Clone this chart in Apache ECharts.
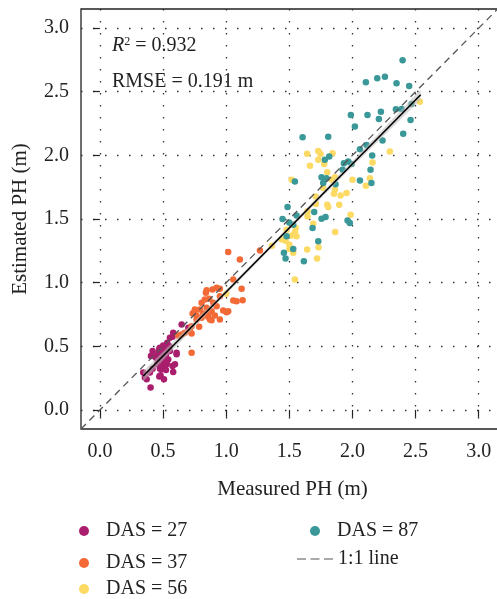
<!DOCTYPE html>
<html><head><meta charset="utf-8">
<script src="https://cdn.jsdelivr.net/npm/echarts@6/dist/echarts.min.js"></script>
<style>html,body{margin:0;padding:0;background:#fff}#c{width:497px;height:599px}</style>
</head><body><div id="c"></div>
<script>
// ---- data ----
const tickValues = [0, 0.5, 1, 1.5, 2, 2.5, 3];
const xRange = [-0.15, 3.2];
const yRange = [-0.15, 3.15];
const das27 = [[0.343,0.293],[0.356,0.254],[0.37,0.24],[0.396,0.293],[0.401,0.176],[0.404,0.423],[0.417,0.462],[0.417,0.324],[0.443,0.41],[0.449,0.423],[0.454,0.358],[0.462,0.45],[0.47,0.481],[0.47,0.262],[0.475,0.324],[0.475,0.489],[0.48,0.272],[0.488,0.476],[0.488,0.397],[0.488,0.319],[0.50,0.40],[0.501,0.507],[0.501,0.358],[0.507,0.24],[0.515,0.345],[0.523,0.437],[0.523,0.313],[0.533,0.528],[0.533,0.462],[0.541,0.397],[0.554,0.567],[0.554,0.462],[0.575,0.575],[0.575,0.345],[0.58,0.607],[0.58,0.298],[0.594,0.358],[0.607,0.437],[0.607,0.45],[0.647,0.672],[0.70,0.646],[0.51,0.47],[0.52,0.42],[0.49,0.43],[0.46,0.39],[0.53,0.36],[0.55,0.50]];
const das37 = [[0.62,0.585],[0.647,0.593],[0.673,0.607],[0.713,0.619],[0.726,0.601],[0.726,0.658],[0.726,0.45],[0.734,0.758],[0.752,0.789],[0.75,0.776],[0.765,0.742],[0.765,0.711],[0.786,0.654],[0.792,0.789],[0.805,0.842],[0.805,0.724],[0.818,0.758],[0.831,0.868],[0.839,0.92],[0.845,0.802],[0.845,0.94],[0.857,0.732],[0.857,0.75],[0.865,0.873],[0.871,0.711],[0.884,0.776],[0.884,0.705],[0.892,0.946],[0.897,0.842],[0.91,0.742],[0.924,0.815],[0.924,0.959],[0.95,0.951],[0.95,0.893],[0.95,0.711],[0.976,0.781],[1.003,0.768],[1.016,0.776],[1.016,1.241],[1.056,1.024],[1.056,0.86],[1.082,0.854],[1.108,1.181],[1.122,0.951],[1.13,0.862],[1.267,1.252]];
const das56 = [[1.0,0.912],[1.362,1.29],[1.439,1.338],[1.478,1.416],[1.499,1.265],[1.518,1.808],[1.531,1.234],[1.544,1.395],[1.544,1.024],[1.557,1.364],[1.641,2.012],[1.641,1.26],[1.644,1.56],[1.644,1.52],[1.663,1.918],[1.689,1.463],[1.708,1.677],[1.71,1.618],[1.72,1.189],[1.729,2.035],[1.729,1.965],[1.731,1.278],[1.747,2.01],[1.768,1.743],[1.776,1.933],[1.8,1.868],[1.8,1.612],[1.808,1.594],[1.834,1.808],[1.842,2.017],[1.853,1.698],[1.861,1.829],[1.861,1.73],[1.863,1.398],[1.895,1.612],[1.906,1.685],[1.953,1.704],[1.985,1.534],[2.0,1.808],[2.106,1.761],[2.138,1.821],[2.159,1.944],[2.296,2.03],[2.534,2.422],[1.47,1.33],[1.52,1.37],[1.55,1.43],[1.5,1.3]];
const das87 = [[1.446,1.5],[1.457,1.234],[1.47,1.189],[1.478,1.364],[1.486,1.594],[1.499,1.473],[1.531,1.455],[1.531,1.265],[1.544,1.795],[1.557,1.528],[1.605,2.142],[1.615,1.168],[1.684,1.43],[1.697,1.555],[1.729,1.325],[1.755,1.829],[1.755,1.502],[1.768,1.782],[1.781,1.965],[1.787,1.516],[1.794,1.821],[1.808,2.147],[1.816,1.991],[1.866,1.774],[1.922,1.886],[1.932,1.939],[1.961,1.489],[1.966,1.951],[1.979,1.469],[1.987,2.317],[1.993,1.933],[2.019,2.226],[2.059,2.049],[2.059,1.803],[2.106,2.574],[2.111,2.082],[2.119,2.317],[2.143,1.886],[2.15,1.782],[2.156,1.998],[2.196,2.605],[2.209,2.286],[2.225,2.343],[2.238,2.116],[2.257,2.618],[2.344,2.362],[2.349,2.566],[2.389,2.364],[2.397,2.748],[2.402,2.169],[2.449,2.545],[2.46,2.278],[2.468,2.404]];
const fitX = [0.343, 2.54];
const fitY = [0.266, 2.476];
const bandX = [0.343, 0.9, 1.44, 2.0, 2.54];
const bandLow = [0.226, 0.809, 1.355, 1.912, 2.437];
const bandHigh = [0.306, 0.845, 1.385, 1.956, 2.517];
const oneToOne = [-0.15, 3.2];
const annotations = ['{i|R}{s|2} = 0.932', 'RMSE = 0.191 m'];
const names = ['DAS = 27', 'DAS = 37', 'DAS = 56', 'DAS = 87', '1:1 line'];
const colors = ['#aa1e6e', '#f36a37', '#fcda64', '#3a9898'];

// ---- chart ----
const FONT = 'Liberation Serif';
const chart = echarts.init(document.getElementById('c'), null, {renderer: 'canvas'});
const txt = {fontFamily: FONT, fontSize: 20, color: '#222'};
function axis(name, gap, range, margin) {
  return {
    type: 'value', min: range[0], max: range[1],
    name: name, nameLocation: 'middle', nameGap: gap,
    nameTextStyle: {fontFamily: FONT, fontSize: 21, color: '#222'},
    axisLine: {show: false},
    axisTick: {show: true, length: 7, customValues: tickValues, lineStyle: {color: '#222', width: 1.2}},
    axisLabel: {customValues: tickValues, formatter: v => v.toFixed(1), fontFamily: FONT, fontSize: 20, color: '#222', margin: margin},
    splitLine: {show: true, lineStyle: {color: '#333', width: 1.3, type: [1.5, 10.5]}}
  };
}
const scatter = [das27, das37, das56, das87].map((d, i) => ({
  type: 'scatter', name: names[i], data: d, symbolSize: 6.5,
  itemStyle: {color: colors[i], opacity: 1}, z: 2
}));
function dotLegend(name, cx, cy) {
  return {
    data: [{name: name, icon: 'circle'}], left: cx - 5, top: cy - 10, padding: 0,
    itemWidth: 10, itemHeight: 10, selectedMode: false,
    textStyle: Object.assign({lineHeight: 20, padding: [0, 0, 0, 12]}, txt)
  };
}
chart.setOption({
  animation: false,
  backgroundColor: '#fff',
  grid: {left: 81, top: 9, width: 423, height: 420, show: true, borderColor: '#222', borderWidth: 1.3,
         containLabel: false, outerBoundsMode: 'none'},
  xAxis: axis('Measured PH (m)', 50, xRange, 13),
  yAxis: axis('Estimated PH (m)', 50, yRange, 12),
  legend: [
    dotLegend(names[0], 84, 531),
    dotLegend(names[1], 84, 563),
    dotLegend(names[2], 84, 589),
    dotLegend(names[3], 315, 531),
    {
      data: [{name: names[4], icon: 'path://M0,0h9v1h-9zM13.5,0h9v1h-9zM27,0h9v1h-9z'}],
      left: 297, top: 549, padding: 0, itemWidth: 36, itemHeight: 1.5, selectedMode: false,
      itemStyle: {color: '#555'},
      textStyle: Object.assign({lineHeight: 20}, txt)
    }
  ],
  graphic: annotations.map((t, i) => ({
    type: 'text', x: 112, y: i === 0 ? 46 : 82,
    style: {
      text: t, fontFamily: FONT, fontSize: 20, fill: '#222', verticalAlign: 'middle',
      rich: {
        i: {fontFamily: FONT, fontSize: 20, fontStyle: 'italic', fill: '#222'},
        s: {fontFamily: FONT, fontSize: 12, verticalAlign: 'top', fill: '#222', lineHeight: 20}
      }
    }
  })),
  series: scatter.concat([
    {
      type: 'custom', name: 'band', silent: true, z: 3,
      data: bandX.map((x, i) => [x, bandLow[i], bandHigh[i]]),
      renderItem: function (params, api) {
        if (params.dataIndex !== 0) return null;
        const pts = [];
        for (let i = 0; i < bandX.length; i++) pts.push(api.coord([bandX[i], bandHigh[i]]));
        for (let i = bandX.length - 1; i >= 0; i--) pts.push(api.coord([bandX[i], bandLow[i]]));
        return {type: 'polygon', shape: {points: pts}, style: {fill: 'rgba(185,185,185,0.55)'}};
      }
    },
    {
      type: 'line', name: 'fit', data: fitX.map((x, i) => [x, fitY[i]]),
      symbol: 'none', lineStyle: {color: '#000', width: 1.6}, z: 4, silent: true
    },
    {
      type: 'line', name: names[4], data: oneToOne.map(v => [v, v]),
      symbol: 'none', lineStyle: {color: '#555', width: 1.3, type: [7, 5]}, z: 4, silent: true
    }
  ])
});
</script></body></html>
